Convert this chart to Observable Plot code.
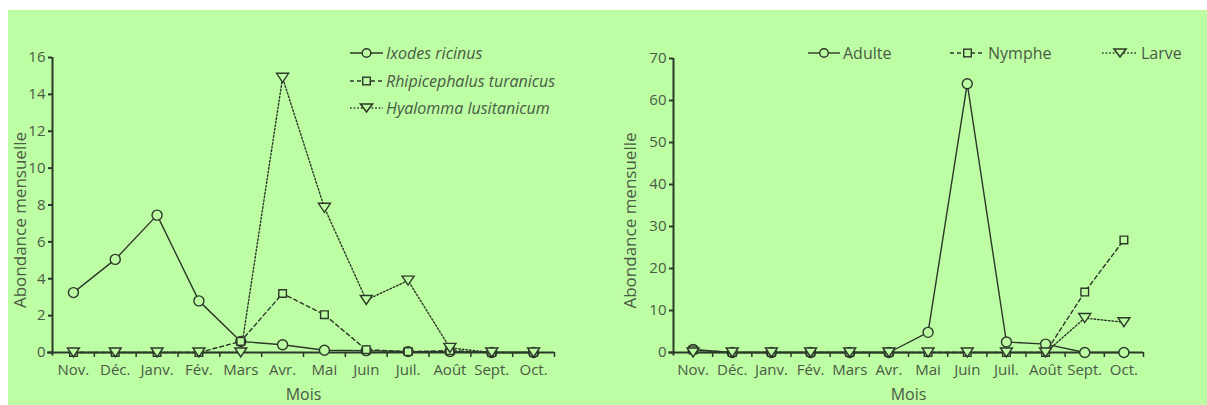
<!DOCTYPE html>
<html><head><meta charset="utf-8">
<script src="https://cdn.jsdelivr.net/npm/d3@7"></script>
<script src="https://cdn.jsdelivr.net/npm/@observablehq/plot@0.6"></script>
<style>
body{margin:0;background:#fff;width:1207px;height:405px;overflow:hidden;font-family:"Open Sans",sans-serif}
#panel{position:absolute;left:8px;top:10px;width:1199px;height:395px;background:#bdfea5;overflow:hidden}
.leg{position:absolute;top:0;left:0}
</style></head>
<body><div id="panel"></div>
<script>
const months = ["Nov.","Déc.","Janv.","Fév.","Mars","Avr.","Mai","Juin","Juil.","Août","Sept.","Oct."];
const ixodes        = [3.25,5.05,7.45,2.8,0.6,0.42,0.12,0.1,0.05,0.05,0,0];
const rhipicephalus = [0,0,0,0,0.6,3.2,2.05,0.15,0.05,0.1,0,0];
const hyalomma      = [0,0,0,0,0,14.9,7.85,2.85,3.9,0.25,0,0];
const adulte = [0.7,0,0,0,0,0,4.8,64,2.5,2,0,0];
const nymphe = [0.6,0,0,0,0,0,0,0,0,0,14.4,26.8];
const larve  = [0,0,0,0,0,0,0,0,0,0,8.2,7.2];
const leftSeries  = ["Ixodes ricinus","Rhipicephalus turanicus","Hyalomma lusitanicum"];
const rightSeries = ["Adulte","Nymphe","Larve"];
const yTicksLeft = [0,2,4,6,8,10,12,14,16];
const yTicksRight = [0,10,20,30,40,50,60,70];

const INK = "#2c3829", TXT = "#4a5a44", BG = "#bdfea5";
const FONT = '"Open Sans", sans-serif';
const triDown = {draw(ctx){ctx.moveTo(-6,-4.5);ctx.lineTo(6,-4.5);ctx.lineTo(0,4.5);ctx.closePath();}};
const styles = [
  {dash:null, symbol:"circle", r:5},
  {dash:"4,3", symbol:"square", r:4.3},
  {dash:"1.6,2", symbol:triDown, r:5}
];
const idx = d3.range(months.length);
const bounds = idx.map(i => i + 0.5);

function chart(series, yMax, yTicks, opts){
  const marks = [
    Plot.ruleY([0], {stroke: INK, strokeWidth: 2, x1: -0.62, x2: 11.5}),
    Plot.ruleX([-0.5], {stroke: INK, strokeWidth: 2, y1: -yMax*0.012, y2: yMax}),
    Plot.axisY({ticks: yTicks, tickSize: 4, tickPadding: 3, stroke: INK, strokeWidth: 2, fill: TXT, label: null, fontSize: 15}),
    Plot.axisX({ticks: bounds, tickFormat: () => "", tickSize: 5, stroke: INK, strokeWidth: 1.5, label: null}),
    Plot.axisX({ticks: idx, tickFormat: i => months[i], tickSize: 0, tickPadding: 12, fill: TXT, fontSize: 15, label: null}),
    Plot.text(["Mois"], {frameAnchor: "bottom", lineAnchor: "middle", dy: 42, fill: TXT, fontSize: 16}),
    Plot.text(["Abondance mensuelle"], {frameAnchor: "left", textAnchor: "middle", lineAnchor: "middle", rotate: -90,
      dx: -opts.ylabelOffset, dy: 15, fill: TXT, fontSize: 17})
  ];
  series.forEach((vals, k) => {
    const data = vals.map((v, i) => ({i, v}));
    marks.push(Plot.line(data, {x: "i", y: "v", stroke: INK, strokeWidth: 1.4, strokeDasharray: styles[k].dash}));
  });
  series.forEach((vals, k) => {
    const data = vals.map((v, i) => ({i, v}));
    const s = styles[k];
    marks.push(Plot.dot(data, {x: "i", y: "v", symbol: s.symbol, r: s.r, stroke: INK, strokeWidth: 1.4, fill: BG}));
  });
  const svg = Plot.plot({
    width: opts.width, height: 395,
    marginLeft: opts.ml, marginRight: opts.mr, marginTop: opts.mt, marginBottom: 53,
    style: {background: "transparent", fontFamily: FONT, fontSize: "15px", color: TXT, overflow: "visible"},
    x: {type: "linear", domain: [-0.5, 11.5]},
    y: {domain: [0, yMax]},
    marks
  });
  svg.style.position = "absolute";
  svg.style.top = "0px";
  svg.style.left = opts.left + "px";
  return svg;
}

const panel = document.getElementById("panel");
panel.appendChild(chart([ixodes, rhipicephalus, hyalomma], 16, yTicksLeft,
  {width: 590, ml: 44, mr: 44, mt: 47, ylabelOffset: 32, left: 0}));
panel.appendChild(chart([adulte, nymphe, larve], 70, yTicksRight,
  {width: 617, ml: 83, mr: 64, mt: 48, ylabelOffset: 43, left: 582}));

// legends (panel coords)
function legend(items){
  const svg = d3.select(panel).append("svg").attr("class","leg").attr("width",1199).attr("height",395);
  items.forEach(it => {
    const s = styles[it.k];
    const g = svg.append("g").attr("transform", `translate(${it.x},${it.y})`);
    g.append("line").attr("x1",0).attr("x2",it.w).attr("stroke",INK).attr("stroke-width",1.4)
      .attr("stroke-dasharray", s.dash);
    const cx = it.w/2;
    if (it.k === 0) g.append("circle").attr("cx",cx).attr("r",4.3).attr("fill",BG).attr("stroke",INK).attr("stroke-width",1.4);
    if (it.k === 1) g.append("rect").attr("x",cx-3.8).attr("y",-3.8).attr("width",7.6).attr("height",7.6).attr("fill",BG).attr("stroke",INK).attr("stroke-width",1.4);
    if (it.k === 2) g.append("path").attr("d",`M${cx-6},-4L${cx+6},-4L${cx},4Z`).attr("fill",BG).attr("stroke",INK).attr("stroke-width",1.6);
    g.append("text").attr("x",it.w+3).attr("y",0).attr("dy","0.35em").attr("fill",TXT)
      .attr("font-size",it.fs).attr("font-style",it.italic?"italic":"normal")
      .attr("font-family",FONT).text(it.label);
  });
}
legend([
  {k:0, label:leftSeries[0], x:342, y:43, w:33, fs:16, italic:true},
  {k:1, label:leftSeries[1], x:342, y:71, w:33, fs:16, italic:true},
  {k:2, label:leftSeries[2], x:342, y:98, w:33, fs:16, italic:true},
  {k:0, label:rightSeries[0], x:800, y:43, w:32, fs:16, italic:false},
  {k:1, label:rightSeries[1], x:942, y:43, w:35, fs:16, italic:false},
  {k:2, label:rightSeries[2], x:1094, y:43, w:36, fs:16, italic:false}
]);
</script>
</body></html>
